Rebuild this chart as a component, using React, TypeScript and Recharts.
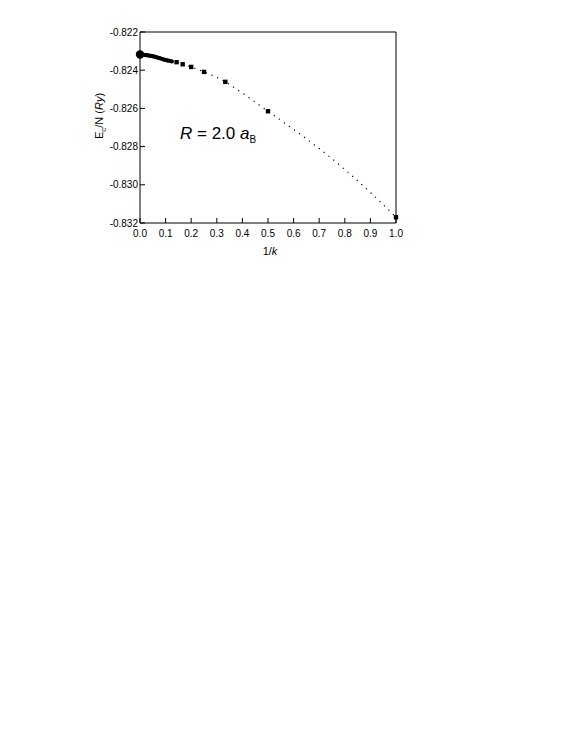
import React from 'react';
import {
  ComposedChart, Line, Scatter, XAxis, YAxis,
} from 'recharts';

// dense run of points near 1/k -> 0 (thick black band)
const denseX = [0, 0.01, 0.02, 0.03, 0.04, 0.05, 0.0588, 0.0667, 0.0769, 0.0909, 0.1, 0.1111, 0.125];
const denseY = [-0.82318, -0.82319, -0.8232, -0.82322, -0.82324, -0.82327, -0.8233, -0.82333, -0.82337, -0.82343, -0.82346, -0.8235, -0.82354];

// square markers, 1/k for k = 1..7
const squareX = [0.1429, 0.1667, 0.2, 0.25, 0.3333, 0.5, 1.0];
const squareY = [-0.82358, -0.82369, -0.82383, -0.82409, -0.82461, -0.82615, -0.8317];

// dotted fit curve
const fitX = [0.1429, 0.1667, 0.2, 0.25, 0.3333, 0.4, 0.5, 0.6, 0.7, 0.8, 0.9, 1.0];
const fitY = [-0.82358, -0.82369, -0.82383, -0.82409, -0.82461, -0.8252, -0.82615, -0.8271, -0.8281, -0.8292, -0.8304, -0.8317];

const limitX = [0];
const limitY = [-0.82318];

const xMajor = [0, 0.1, 0.2, 0.3, 0.4, 0.5, 0.6, 0.7, 0.8, 0.9, 1.0];
const xMinor = [0.05, 0.15, 0.25, 0.35, 0.45, 0.55, 0.65, 0.75, 0.85, 0.95];
const yMajor = [-0.832, -0.830, -0.828, -0.826, -0.824, -0.822];
const yMinor = [-0.831, -0.829, -0.827, -0.825, -0.823];

const zip = (xs: number[], ys: number[]) => xs.map((x, i) => ({ x, y: ys[i] }));
const dense = zip(denseX, denseY);
const squares = zip(squareX, squareY);
const fit = zip(fitX, fitY);
const limit = zip(limitX, limitY);

const FONT = 'Liberation Sans, Arial, sans-serif';
const tickStyle = { fill: '#000', fontSize: 10, fontFamily: FONT };
const blank = () => '';

const Square = (p: any) => (
  <rect x={p.cx - 2.2} y={p.cy - 2.2} width={4.4} height={4.4} fill="#000" />
);
const BigDot = (p: any) => <circle cx={p.cx} cy={p.cy} r={4.2} fill="#000" />;

const YLabel = () => (
  <text
    x={0}
    y={0}
    transform="translate(103,116) rotate(-90)"
    textAnchor="middle"
    fontFamily={FONT}
    fontSize={11}
    fill="#000"
  >
    <tspan>E</tspan>
    <tspan fontSize={8} dy={3}>c</tspan>
    <tspan dy={-3}>/N  (</tspan>
    <tspan fontStyle="italic">Ry</tspan>
    <tspan>)</tspan>
  </text>
);

const XLabel = () => (
  <text x={270} y={255} textAnchor="middle" fontFamily={FONT} fontSize={11} fill="#000">
    <tspan>1/</tspan>
    <tspan fontStyle="italic">k</tspan>
  </text>
);

const Annotation = () => (
  <text x={180} y={139} fontFamily={FONT} fontSize={17} fill="#000">
    <tspan fontStyle="italic">R</tspan>
    <tspan> = 2.0 </tspan>
    <tspan fontStyle="italic">a</tspan>
    <tspan fontSize={10} dy={4}>B</tspan>
  </text>
);

export default function App() {
  const common = { type: 'number' as const };
  return (
    <div style={{ position: 'absolute', left: 0, top: 0, width: 572, height: 740, background: '#fff' }}>
      <ComposedChart
        width={572}
        height={300}
        margin={{ top: 30, left: 138, right: 174, bottom: 75 }}
      >
        {/* bottom axes */}
        <XAxis
          {...common} xAxisId="b" dataKey="x" domain={[0, 1]} ticks={xMajor}
          orientation="bottom" height={1} interval={0}
          tickSize={-5} tickMargin={12} tick={tickStyle}
          tickFormatter={(v: number) => v.toFixed(1)}
          stroke="#000" tickLine={{ stroke: '#000' }}
        />
        <XAxis
          {...common} xAxisId="bm" dataKey="x" domain={[0, 1]} ticks={xMinor}
          orientation="bottom" height={1} interval={0}
          tickSize={-3} tickFormatter={blank} axisLine={false}
          tickLine={{ stroke: '#000' }}
        />
        {/* top axes */}
        <XAxis
          {...common} xAxisId="t" dataKey="x" domain={[0, 1]} ticks={xMajor}
          orientation="top" height={1} interval={0}
          tickSize={-5} tickFormatter={blank}
          stroke="#000" tickLine={{ stroke: '#000' }}
        />
        <XAxis
          {...common} xAxisId="tm" dataKey="x" domain={[0, 1]} ticks={xMinor}
          orientation="top" height={1} interval={0}
          tickSize={-3} tickFormatter={blank} axisLine={false}
          tickLine={{ stroke: '#000' }}
        />
        {/* left axes */}
        <YAxis
          {...common} yAxisId="l" dataKey="y" domain={[-0.832, -0.822]} ticks={yMajor}
          orientation="left" width={1} interval={0}
          tickSize={-5} tickMargin={7} tick={tickStyle}
          tickFormatter={(v: number) => v.toFixed(3)}
          stroke="#000" tickLine={{ stroke: '#000' }}
        />
        <YAxis
          {...common} yAxisId="lm" dataKey="y" domain={[-0.832, -0.822]} ticks={yMinor}
          orientation="left" width={1} interval={0}
          tickSize={-3} tickFormatter={blank} axisLine={false}
          tickLine={{ stroke: '#000' }}
        />
        {/* right axes */}
        <YAxis
          {...common} yAxisId="r" dataKey="y" domain={[-0.832, -0.822]} ticks={yMajor}
          orientation="right" width={1} interval={0}
          tickSize={-5} tickFormatter={blank}
          stroke="#000" tickLine={{ stroke: '#000' }}
        />
        <YAxis
          {...common} yAxisId="rm" dataKey="y" domain={[-0.832, -0.822]} ticks={yMinor}
          orientation="right" width={1} interval={0}
          tickSize={-3} tickFormatter={blank} axisLine={false}
          tickLine={{ stroke: '#000' }}
        />

        <Line
          xAxisId="b" yAxisId="l" data={fit} dataKey="y" type="monotone"
          stroke="#000" strokeWidth={1.2} strokeDasharray="1.2 5"
          dot={false} activeDot={false} isAnimationActive={false}
        />
        <Line
          xAxisId="b" yAxisId="l" data={dense} dataKey="y" type="monotone"
          stroke="#000" strokeWidth={4}
          dot={{ r: 2, fill: '#000', stroke: 'none' }} activeDot={false}
          isAnimationActive={false}
        />
        <Scatter
          xAxisId="b" yAxisId="l" data={squares} dataKey="y"
          shape={Square} isAnimationActive={false}
        />
        <Scatter
          xAxisId="b" yAxisId="l" data={limit} dataKey="y"
          shape={BigDot} isAnimationActive={false}
        />
        <YLabel />
        <XLabel />
        <Annotation />
      </ComposedChart>
    </div>
  );
}
